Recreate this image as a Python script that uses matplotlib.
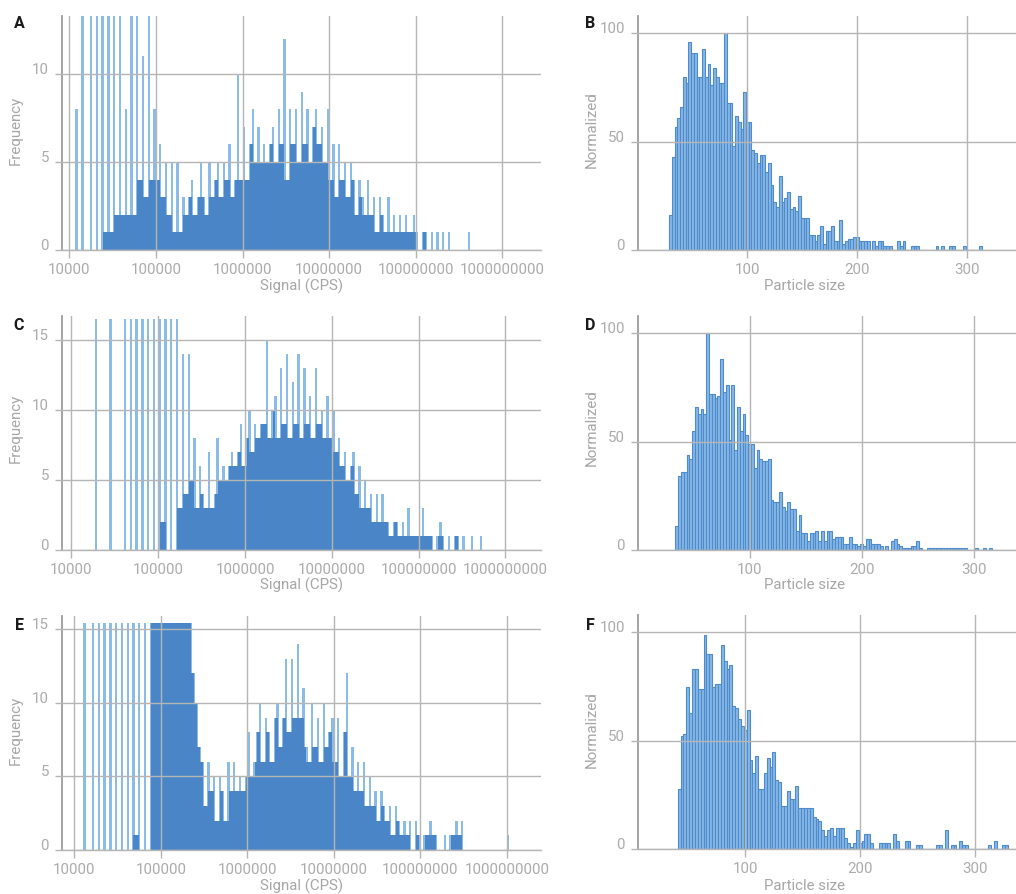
import numpy as np
import matplotlib
matplotlib.use("Agg")
import matplotlib.pyplot as plt
from matplotlib.ticker import NullLocator

plt.rcParams['font.family'] = ['Roboto', 'DejaVu Sans']

# ---------------- data ----------------
# Signal histograms: counts per log10 bin (30 bins per decade, starting at 10^4)
SIGNAL_LOG_START = 4.0
SIGNAL_BINS_PER_DECADE = 30

A_counts = [0, 0, 8, 0, 14, 0, 0, 14, 0, 14,
            0, 14, 1, 14, 1, 14, 2, 14, 2, 8,
            2, 14, 2, 14, 4, 11, 3, 14, 4, 8,
            4, 6, 3, 5, 2, 5, 1, 5, 1, 3,
            2, 3, 4, 2, 3, 5, 3, 2, 5, 3,
            4, 5, 3, 5, 4, 6, 3, 4, 10, 4,
            7, 4, 6, 8, 5, 7, 5, 6, 5, 6,
            7, 5, 8, 6, 12, 4, 8, 6, 8, 5,
            9, 6, 8, 5, 7, 8, 6, 7, 5, 8,
            4, 6, 3, 6, 4, 5, 3, 5, 4, 2,
            4, 3, 2, 4, 2, 3, 1, 3, 2, 1,
            3, 1, 2, 1, 2, 1, 2, 1, 1, 2,
            1, 0, 1, 1, 0, 1, 0, 1, 0, 1,
            0, 1, 0, 0, 0, 0, 0, 0, 1]

C_counts = [0, 0, 0, 0, 0, 0, 0, 0, 16.5, 0,
            0, 0, 0, 16.5, 0, 0, 0, 0, 16.5, 0,
            16.5, 0, 16.5, 0, 16.5, 0, 16.5, 0, 16.5, 0,
            16.5, 2, 16.5, 0, 16.5, 0, 16.5, 3, 14, 4,
            14, 5, 8, 3, 6, 4, 3, 7, 3, 4,
            8, 5, 6, 5, 6, 7, 6, 7, 9, 6,
            8, 10, 7, 9, 8, 9, 9, 15, 8, 10,
            11, 8, 13, 9, 14, 8, 12, 9, 14, 8,
            13, 9, 11, 8, 13, 9, 10, 8, 11, 8,
            10, 7, 8, 6, 7, 5, 6, 7, 4, 6,
            3, 5, 3, 4, 2, 4, 2, 4, 2, 2,
            1, 2, 2, 1, 2, 1, 3, 1, 1, 1,
            1, 3, 1, 1, 1, 0, 1, 2, 1, 0,
            1, 0, 1, 1, 0, 1, 0, 0, 1, 0,
            0, 1]

E_counts = [0, 0, 0, 15.4, 0, 0, 15.4, 0, 15.4, 0,
            15.4, 0, 15.4, 0, 15.4, 0, 15.4, 0, 15.4, 0,
            15.4, 1, 15.4, 0, 15.4, 0, 15.4, 15.4, 15.4, 15.4,
            15.4, 15.4, 15.4, 15.4, 15.4, 15.4, 15.4, 15.4, 15.4, 15.4,
            15.4, 12, 10, 7, 6, 3, 6, 4, 5, 2,
            5, 4, 2, 6, 4, 6, 4, 5, 4, 5,
            8, 5, 6, 8, 10, 6, 9, 8, 6, 9,
            10, 7, 9, 13, 8, 13, 9, 14, 9, 11,
            7, 6, 10, 7, 9, 6, 10, 7, 8, 9,
            6, 9, 5, 8, 12, 5, 7, 4, 6, 4,
            6, 3, 5, 3, 4, 2, 4, 3, 2, 3,
            1, 3, 2, 1, 2, 1, 2, 0, 2, 1,
            0, 1, 1, 2, 1, 1, 0, 0, 1, 0,
            1, 1, 2, 1, 2, 0, 0, 0, 0, 0,
            0, 0, 0, 0, 0, 0, 0, 0, 0, 0,
            1]

# Particle size histograms (normalized), bin width 2.5
SIZE_BIN = 2.5
B_first_center = 30.0
B_values = [16, 43, 57, 61, 66, 80, 77, 96, 91, 91,
            80, 80, 93, 80, 86, 76, 84, 80, 77, 77,
            100, 68, 68, 48, 62, 59, 56, 73, 59, 59,
            46, 45, 40, 44, 44, 36, 40, 30, 22, 20,
            34, 22, 24, 27, 19, 20, 18, 25, 15, 15,
            15, 7, 7, 4, 7, 11, 3, 9, 9, 11,
            4, 4, 14, 3, 4, 5, 5, 6, 6, 4,
            4, 4, 4, 0, 4, 2, 4, 4, 2, 2,
            2, 0, 0, 4, 2, 4, 0, 0, 2, 2,
            2, 0, 0, 0, 0, 0, 0, 2, 0, 2,
            0, 0, 2, 2, 0, 0, 0, 2, 0, 0,
            0, 0, 0, 2]

D_first_center = 35.0
D_values = [11, 34, 36, 36, 44, 42, 55, 66, 63, 65,
            63, 100, 72, 72, 70, 71, 88, 73, 76, 51,
            76, 46, 66, 55, 63, 53, 49, 49, 38, 46,
            42, 41, 41, 42, 23, 22, 22, 27, 20, 18,
            22, 19, 19, 9, 16, 8, 8, 4, 8, 8,
            9, 4, 9, 4, 9, 9, 5, 6, 6, 6,
            3, 3, 6, 3, 3, 2, 3, 2, 5, 5,
            3, 3, 3, 2, 0, 2, 0, 4, 5, 3,
            2, 1, 1, 1, 2, 2, 4, 1, 0, 0,
            1, 1, 1, 1, 1, 1, 1, 1, 1, 1,
            1, 1, 1, 1, 0, 0, 0, 1, 0, 0,
            1, 0, 1]

F_first_center = 42.5
F_values = [28, 52, 53, 75, 63, 83, 83, 74, 74, 99,
            90, 90, 75, 76, 76, 94, 87, 83, 85, 66,
            65, 60, 57, 55, 64, 41, 35, 43, 28, 28,
            35, 42, 38, 45, 32, 31, 20, 20, 27, 23,
            23, 29, 19, 19, 19, 19, 19, 15, 14, 13,
            9, 6, 9, 10, 6, 10, 10, 10, 5, 3,
            1, 3, 9, 3, 4, 7, 7, 3, 0, 0,
            3, 3, 3, 3, 0, 7, 4, 0, 0, 4,
            4, 0, 0, 2, 2, 0, 0, 0, 0, 0,
            2, 2, 0, 9, 0, 2, 2, 0, 4, 2,
            2, 0, 0, 0, 0, 0, 0, 0, 2, 0,
            4, 0, 0, 2, 2]

signal_ticks = [1e4, 1e5, 1e6, 1e7, 1e8, 1e9]
signal_tick_labels = ['10000', '100000', '1000000', '10000000', '100000000', '1000000000']
size_ticks = [100, 200, 300]

# ---------------- style ----------------
W, H = 1016, 894
LIGHT = '#8bbce8'
DARK = '#4a86c7'
BAR_FACE = '#86b8e6'
BAR_EDGE = '#4f8bcb'
GRID = '#b5b5b5'
SPINE = '#9c9c9c'
TICKC = '#ababab'
LABELC = '#a6a6a6'
FS = 10.8

fig = plt.figure(figsize=(W / 100, H / 100), dpi=100)


def add_ax(l, t, r, b):
    return fig.add_axes([l / W, 1 - b / H, (r - l) / W, (b - t) / H])


def style(ax):
    for s in ('top', 'right'):
        ax.spines[s].set_visible(False)
    ax.spines['left'].set_color(SPINE)
    ax.spines['left'].set_linewidth(1.3)
    ax.spines['bottom'].set_color(GRID)
    ax.spines['bottom'].set_linewidth(1.0)
    ax.grid(True, color=GRID, linewidth=1.0)
    ax.set_axisbelow(False)
    ax.tick_params(axis='x', length=6, width=1.0, color=GRID, pad=3,
                   labelsize=FS, labelcolor=TICKC)
    ax.tick_params(axis='y', length=5, width=1.0, color=GRID, pad=4,
                   labelsize=FS, labelcolor=TICKC)


def signal_panel(ax, counts, xlim_log, ymax, yticks):
    counts = np.asarray(counts, float)
    n = len(counts)
    edges = SIGNAL_LOG_START + np.arange(n + 1) / SIGNAL_BINS_PER_DECADE
    centers = (edges[:-1] + edges[1:]) / 2
    half = 0.8 / (2 * SIGNAL_BINS_PER_DECADE)
    lefts = 10 ** (centers - half)
    rights = 10 ** (centers + half)
    ax.bar(lefts, counts, width=rights - lefts, align='edge', color=LIGHT,
           linewidth=0, zorder=1)
    dark_h = np.minimum(counts[:-1], counts[1:])
    l2 = 10 ** centers[:-1]
    r2 = 10 ** centers[1:]
    ax.bar(l2, dark_h, width=r2 - l2, align='edge', color=DARK,
           linewidth=0, zorder=1.2)
    ax.set_xscale('log')
    ax.set_xlim(10 ** xlim_log[0], 10 ** xlim_log[1])
    ax.set_xticks(signal_ticks)
    ax.set_xticklabels(signal_tick_labels)
    ax.xaxis.set_minor_locator(NullLocator())
    ax.set_ylim(0, ymax)
    ax.set_yticks(yticks)
    ax.set_yticklabels([str(v) for v in yticks])
    style(ax)
    plt.setp(ax.get_yticklabels(), va='baseline')


def size_panel(ax, values, first_center, xlim):
    values = np.asarray(values, float)
    centers = first_center + SIZE_BIN * np.arange(len(values))
    ax.bar(centers, values, width=SIZE_BIN, color=BAR_FACE,
           edgecolor=BAR_EDGE, linewidth=0.8, zorder=1)
    ax.set_xlim(*xlim)
    ax.set_xticks(size_ticks)
    ax.set_xticklabels([str(v) for v in size_ticks])
    ax.set_ylim(0, 108)
    ax.set_yticks([0, 50, 100])
    ax.set_yticklabels(['0', '50', '100'])
    style(ax)
    plt.setp(ax.get_yticklabels(), va='baseline')


axA = add_ax(61.6, 16, 541, 250)
signal_panel(axA, A_counts, (3.91, 9.446), 13.3, [0, 5, 10])
axC = add_ax(61.6, 316, 541, 550)
signal_panel(axC, C_counts, (3.886, 9.409), 16.7, [0, 5, 10, 15])
axE = add_ax(61.6, 616, 541, 850)
signal_panel(axE, E_counts, (3.853, 9.395), 15.9, [0, 5, 10, 15])

axB = add_ax(637.5, 16, 1016, 250)
size_panel(axB, B_values, B_first_center, (0, 344.5))
axD = add_ax(637.5, 316, 1016, 550)
size_panel(axD, D_values, D_first_center, (0, 337.8))
axF = add_ax(637.5, 615, 1016, 849.3)
size_panel(axF, F_values, F_first_center, (6.3, 335.6))


def ftext(x, y, s, **kw):
    fig.text(x / W, 1 - y / H, s, **kw)


for (x, y, s) in [(19, 23, 'A'), (590, 23, 'B'), (19, 325, 'C'),
                  (590, 325, 'D'), (19, 625, 'E'), (590, 626, 'F')]:
    ftext(x, y, s, fontsize=11.5, fontweight='bold', color='#1a1a1a',
          ha='center', va='center')

for y in (130, 428, 730):
    ftext(16, y, 'Frequency', rotation=90, fontsize=FS, color=LABELC,
          ha='center', va='center')
    ftext(592, y, 'Normalized', rotation=90, fontsize=FS, color=LABELC,
          ha='center', va='center')

for y in (286, 585, 886):
    ftext(301, y, 'Signal (CPS)', fontsize=FS, color=LABELC,
          ha='center', va='center')
    ftext(804, y, 'Particle size', fontsize=FS, color=LABELC,
          ha='center', va='center')

fig.savefig('out.png', dpi=100)
